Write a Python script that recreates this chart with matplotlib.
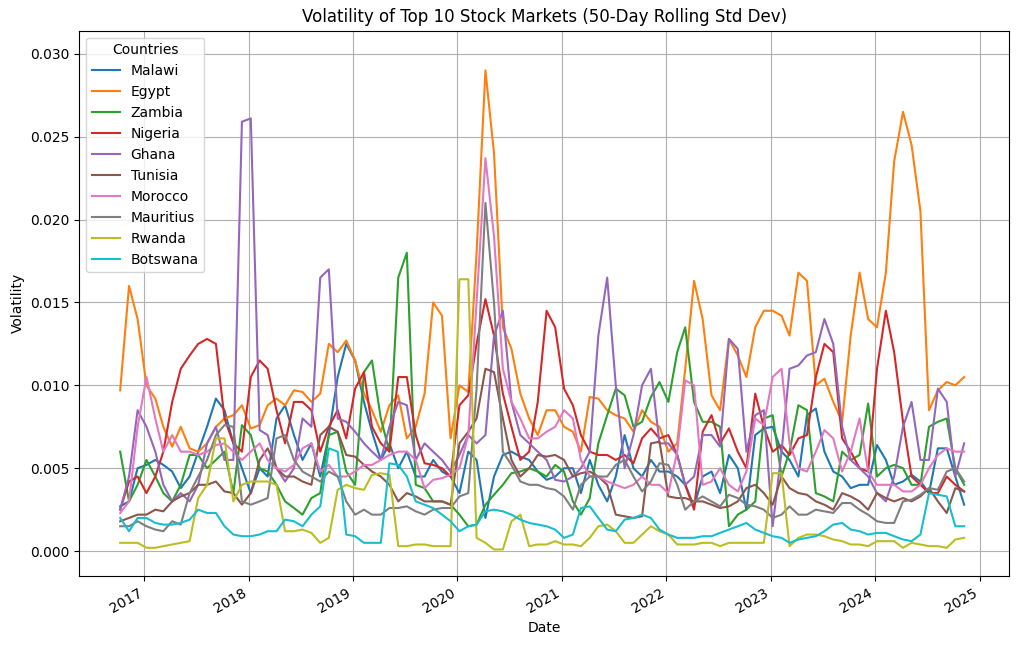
import matplotlib.pyplot as plt
import matplotlib.dates as mdates
import pandas as pd

# monthly samples of the 50-day rolling std, Oct 2016 .. Nov 2024
dates = pd.date_range('2016-10-08', periods=98, freq=pd.DateOffset(months=1))

malawi = [0.0027, 0.0030, 0.0050, 0.0052, 0.0055, 0.0052, 0.0048, 0.0038, 0.0045, 0.0060,
          0.0075, 0.0092, 0.0085, 0.0065, 0.0050, 0.0035, 0.0050, 0.0045, 0.0080, 0.0088,
          0.0070, 0.0055, 0.0065, 0.0045, 0.0070, 0.0105, 0.0125, 0.0115, 0.0090, 0.0072,
          0.0055, 0.0065, 0.0050, 0.0060, 0.0045, 0.0045, 0.0055, 0.0048, 0.0045, 0.0035,
          0.0060, 0.0055, 0.0020, 0.0045, 0.0058, 0.0060, 0.0057, 0.0055, 0.0048, 0.0043,
          0.0045, 0.0050, 0.0050, 0.0035, 0.0055, 0.0040, 0.0030, 0.0045, 0.0070, 0.0050,
          0.0045, 0.0055, 0.0048, 0.0048, 0.0045, 0.0040, 0.0027, 0.0045, 0.0048, 0.0035,
          0.0058, 0.0050, 0.0025, 0.0070, 0.0074, 0.0075, 0.0060, 0.0055, 0.0045, 0.0082,
          0.0086, 0.0060, 0.0048, 0.0045, 0.0038, 0.0040, 0.0040, 0.0064, 0.0055, 0.0040,
          0.0042, 0.0046, 0.0042, 0.0035, 0.0062, 0.0062, 0.0045, 0.0028]

egypt = [0.0097, 0.0160, 0.0140, 0.0100, 0.0092, 0.0075, 0.0063, 0.0075, 0.0062, 0.0060,
         0.0065, 0.0075, 0.0080, 0.0082, 0.0088, 0.0074, 0.0076, 0.0088, 0.0092, 0.0088,
         0.0097, 0.0096, 0.0090, 0.0095, 0.0125, 0.0120, 0.0127, 0.0115, 0.0095, 0.0085,
         0.0072, 0.0088, 0.0094, 0.0068, 0.0075, 0.0095, 0.0150, 0.0142, 0.0068, 0.0100,
         0.0096, 0.0180, 0.0290, 0.0240, 0.0135, 0.0122, 0.0095, 0.0080, 0.0070, 0.0085,
         0.0085, 0.0075, 0.0072, 0.0060, 0.0093, 0.0092, 0.0085, 0.0082, 0.0080, 0.0072,
         0.0085, 0.0078, 0.0075, 0.0060, 0.0065, 0.0110, 0.0163, 0.0140, 0.0094, 0.0085,
         0.0128, 0.0118, 0.0105, 0.0135, 0.0145, 0.0145, 0.0142, 0.0130, 0.0168, 0.0163,
         0.0100, 0.0104, 0.0090, 0.0078, 0.0130, 0.0168, 0.0140, 0.0135, 0.0168, 0.0235,
         0.0265, 0.0245, 0.0205, 0.0085, 0.0097, 0.0102, 0.0100, 0.0105]

zambia = [0.0060, 0.0030, 0.0040, 0.0055, 0.0045, 0.0035, 0.0030, 0.0040, 0.0058, 0.0058,
          0.0050, 0.0055, 0.0060, 0.0035, 0.0076, 0.0070, 0.0050, 0.0048, 0.0040, 0.0030,
          0.0026, 0.0022, 0.0032, 0.0035, 0.0070, 0.0072, 0.0048, 0.0040, 0.0108, 0.0115,
          0.0080, 0.0060, 0.0165, 0.0180, 0.0040, 0.0038, 0.0030, 0.0030, 0.0028, 0.0022,
          0.0015, 0.0016, 0.0028, 0.0034, 0.0040, 0.0047, 0.0048, 0.0050, 0.0048, 0.0045,
          0.0052, 0.0048, 0.0030, 0.0022, 0.0032, 0.0065, 0.0082, 0.0098, 0.0094, 0.0075,
          0.0078, 0.0093, 0.0102, 0.0090, 0.0120, 0.0135, 0.0090, 0.0078, 0.0078, 0.0075,
          0.0015, 0.0022, 0.0025, 0.0030, 0.0080, 0.0082, 0.0045, 0.0060, 0.0088, 0.0085,
          0.0035, 0.0033, 0.0030, 0.0060, 0.0055, 0.0058, 0.0089, 0.0045, 0.0050, 0.0052,
          0.0050, 0.0040, 0.0040, 0.0075, 0.0078, 0.0080, 0.0050, 0.0040]

nigeria = [0.0025, 0.0042, 0.0045, 0.0035, 0.0045, 0.0060, 0.0090, 0.0110, 0.0118, 0.0125,
           0.0128, 0.0125, 0.0080, 0.0065, 0.0060, 0.0105, 0.0115, 0.0110, 0.0085, 0.0065,
           0.0090, 0.0090, 0.0085, 0.0060, 0.0075, 0.0085, 0.0068, 0.0098, 0.0108, 0.0075,
           0.0065, 0.0060, 0.0105, 0.0105, 0.0070, 0.0053, 0.0052, 0.0050, 0.0045, 0.0088,
           0.0094, 0.0125, 0.0152, 0.0130, 0.0095, 0.0075, 0.0055, 0.0060, 0.0090, 0.0145,
           0.0135, 0.0098, 0.0088, 0.0070, 0.0060, 0.0058, 0.0058, 0.0055, 0.0058, 0.0053,
           0.0068, 0.0074, 0.0068, 0.0070, 0.0058, 0.0040, 0.0025, 0.0072, 0.0082, 0.0065,
           0.0074, 0.0060, 0.0050, 0.0095, 0.0075, 0.0060, 0.0064, 0.0058, 0.0068, 0.0070,
           0.0105, 0.0125, 0.0120, 0.0068, 0.0060, 0.0050, 0.0048, 0.0110, 0.0145, 0.0120,
           0.0078, 0.0045, 0.0040, 0.0035, 0.0035, 0.0045, 0.0040, 0.0036]

ghana = [0.0025, 0.0045, 0.0085, 0.0075, 0.0060, 0.0040, 0.0030, 0.0035, 0.0030, 0.0040,
         0.0065, 0.0075, 0.0055, 0.0055, 0.0259, 0.0261, 0.0073, 0.0070, 0.0050, 0.0042,
         0.0050, 0.0080, 0.0075, 0.0165, 0.0170, 0.0080, 0.0078, 0.0072, 0.0065, 0.0060,
         0.0055, 0.0075, 0.0090, 0.0088, 0.0055, 0.0065, 0.0060, 0.0055, 0.0048, 0.0058,
         0.0070, 0.0065, 0.0070, 0.0130, 0.0145, 0.0090, 0.0070, 0.0065, 0.0060, 0.0055,
         0.0043, 0.0042, 0.0045, 0.0050, 0.0060, 0.0130, 0.0165, 0.0100, 0.0050, 0.0070,
         0.0100, 0.0110, 0.0065, 0.0065, 0.0058, 0.0040, 0.0045, 0.0070, 0.0070, 0.0063,
         0.0128, 0.0122, 0.0060, 0.0082, 0.0085, 0.0015, 0.0060, 0.0110, 0.0112, 0.0118,
         0.0120, 0.0140, 0.0125, 0.0075, 0.0055, 0.0050, 0.0045, 0.0035, 0.0030, 0.0045,
         0.0075, 0.0090, 0.0055, 0.0055, 0.0098, 0.0090, 0.0045, 0.0065]

tunisia = [0.0018, 0.0020, 0.0022, 0.0022, 0.0025, 0.0024, 0.0030, 0.0033, 0.0035, 0.0040,
           0.0040, 0.0042, 0.0036, 0.0035, 0.0028, 0.0035, 0.0055, 0.0062, 0.0050, 0.0045,
           0.0045, 0.0042, 0.0040, 0.0070, 0.0075, 0.0072, 0.0058, 0.0057, 0.0052, 0.0048,
           0.0045, 0.0040, 0.0030, 0.0035, 0.0033, 0.0030, 0.0030, 0.0030, 0.0028, 0.0065,
           0.0072, 0.0080, 0.0110, 0.0108, 0.0080, 0.0055, 0.0045, 0.0050, 0.0058, 0.0057,
           0.0058, 0.0055, 0.0045, 0.0047, 0.0048, 0.0045, 0.0040, 0.0022, 0.0021, 0.0020,
           0.0021, 0.0065, 0.0066, 0.0033, 0.0032, 0.0032, 0.0030, 0.0030, 0.0028, 0.0026,
           0.0027, 0.0030, 0.0038, 0.0040, 0.0035, 0.0028, 0.0045, 0.0038, 0.0035, 0.0034,
           0.0030, 0.0028, 0.0025, 0.0035, 0.0033, 0.0030, 0.0025, 0.0035, 0.0032, 0.0030,
           0.0032, 0.0030, 0.0033, 0.0038, 0.0030, 0.0023, 0.0038, 0.0036]

morocco = [0.0023, 0.0030, 0.0075, 0.0105, 0.0080, 0.0060, 0.0070, 0.0060, 0.0060, 0.0058,
           0.0060, 0.0064, 0.0065, 0.0060, 0.0055, 0.0060, 0.0065, 0.0055, 0.0050, 0.0048,
           0.0052, 0.0062, 0.0065, 0.0048, 0.0052, 0.0045, 0.0045, 0.0048, 0.0052, 0.0052,
           0.0055, 0.0058, 0.0060, 0.0060, 0.0055, 0.0038, 0.0043, 0.0044, 0.0046, 0.0050,
           0.0070, 0.0150, 0.0237, 0.0190, 0.0110, 0.0090, 0.0080, 0.0068, 0.0068, 0.0072,
           0.0075, 0.0085, 0.0080, 0.0055, 0.0045, 0.0045, 0.0042, 0.0040, 0.0038, 0.0040,
           0.0045, 0.0040, 0.0040, 0.0035, 0.0060, 0.0103, 0.0100, 0.0040, 0.0042, 0.0050,
           0.0040, 0.0036, 0.0048, 0.0080, 0.0076, 0.0105, 0.0110, 0.0065, 0.0050, 0.0048,
           0.0060, 0.0073, 0.0068, 0.0048, 0.0060, 0.0080, 0.0048, 0.0040, 0.0040, 0.0040,
           0.0036, 0.0036, 0.0040, 0.0050, 0.0058, 0.0062, 0.0060, 0.0060]

mauritius = [0.0015, 0.0015, 0.0018, 0.0015, 0.0013, 0.0012, 0.0018, 0.0016, 0.0035, 0.0045,
             0.0055, 0.0070, 0.0076, 0.0075, 0.0030, 0.0028, 0.0030, 0.0032, 0.0068, 0.0070,
             0.0055, 0.0048, 0.0045, 0.0042, 0.0048, 0.0045, 0.0030, 0.0022, 0.0025, 0.0022,
             0.0022, 0.0026, 0.0026, 0.0027, 0.0024, 0.0022, 0.0025, 0.0026, 0.0026, 0.0033,
             0.0035, 0.0098, 0.0210, 0.0150, 0.0060, 0.0052, 0.0042, 0.0040, 0.0040, 0.0038,
             0.0037, 0.0033, 0.0025, 0.0040, 0.0045, 0.0045, 0.0045, 0.0052, 0.0055, 0.0045,
             0.0036, 0.0042, 0.0053, 0.0052, 0.0040, 0.0025, 0.0030, 0.0033, 0.0030, 0.0027,
             0.0034, 0.0032, 0.0028, 0.0027, 0.0025, 0.0020, 0.0022, 0.0027, 0.0022, 0.0022,
             0.0025, 0.0024, 0.0023, 0.0029, 0.0029, 0.0025, 0.0022, 0.0018, 0.0017, 0.0017,
             0.0030, 0.0031, 0.0034, 0.0038, 0.0037, 0.0048, 0.0050, 0.0042]

rwanda = [0.0005, 0.0005, 0.0005, 0.0002, 0.0002, 0.0003, 0.0004, 0.0005, 0.0006, 0.0032,
          0.0040, 0.0068, 0.0068, 0.0030, 0.0040, 0.0042, 0.0042, 0.0042, 0.0040, 0.0012,
          0.0012, 0.0013, 0.0011, 0.0005, 0.0008, 0.0037, 0.0040, 0.0038, 0.0037, 0.0046,
          0.0047, 0.0046, 0.0003, 0.0003, 0.0004, 0.0004, 0.0003, 0.0003, 0.0003, 0.0164,
          0.0164, 0.0008, 0.0005, 0.0001, 0.0001, 0.0018, 0.0022, 0.0003, 0.0004, 0.0004,
          0.0006, 0.0004, 0.0004, 0.0003, 0.0008, 0.0015, 0.0016, 0.0012, 0.0005, 0.0005,
          0.0010, 0.0015, 0.0012, 0.0010, 0.0004, 0.0004, 0.0004, 0.0005, 0.0005, 0.0003,
          0.0005, 0.0005, 0.0005, 0.0005, 0.0005, 0.0047, 0.0047, 0.0003, 0.0008, 0.0010,
          0.0010, 0.0009, 0.0007, 0.0006, 0.0004, 0.0004, 0.0003, 0.0006, 0.0006, 0.0006,
          0.0002, 0.0005, 0.0004, 0.0003, 0.0003, 0.0002, 0.0007, 0.0008]

botswana = [0.0020, 0.0012, 0.0020, 0.0020, 0.0017, 0.0016, 0.0016, 0.0017, 0.0019, 0.0025,
            0.0023, 0.0023, 0.0015, 0.0010, 0.0009, 0.0009, 0.0010, 0.0012, 0.0012, 0.0019,
            0.0018, 0.0015, 0.0022, 0.0027, 0.0062, 0.0060, 0.0010, 0.0009, 0.0005, 0.0005,
            0.0005, 0.0053, 0.0052, 0.0045, 0.0030, 0.0028, 0.0026, 0.0022, 0.0018, 0.0012,
            0.0015, 0.0016, 0.0024, 0.0025, 0.0024, 0.0022, 0.0019, 0.0017, 0.0016, 0.0015,
            0.0013, 0.0008, 0.0010, 0.0026, 0.0027, 0.0020, 0.0013, 0.0012, 0.0019, 0.0020,
            0.0022, 0.0020, 0.0013, 0.0010, 0.0008, 0.0008, 0.0008, 0.0009, 0.0009, 0.0011,
            0.0013, 0.0015, 0.0017, 0.0013, 0.0011, 0.0009, 0.0008, 0.0005, 0.0007, 0.0008,
            0.0009, 0.0012, 0.0016, 0.0017, 0.0013, 0.0012, 0.0010, 0.0011, 0.0011, 0.0009,
            0.0007, 0.0006, 0.0010, 0.0035, 0.0034, 0.0033, 0.0015, 0.0015]

countries = ['Malawi', 'Egypt', 'Zambia', 'Nigeria', 'Ghana',
             'Tunisia', 'Morocco', 'Mauritius', 'Rwanda', 'Botswana']
series = [malawi, egypt, zambia, nigeria, ghana,
          tunisia, morocco, mauritius, rwanda, botswana]

fig = plt.figure(figsize=(10.18, 6.45), dpi=100)
ax = fig.add_axes([0.0779, 0.107, 0.9133, 0.8456])

for name, vals in zip(countries, series):
    ax.plot(dates, vals, label=name)

ax.set_title('Volatility of Top 10 Stock Markets (50-Day Rolling Std Dev)')
ax.set_xlabel('Date')
ax.set_ylabel('Volatility')
ax.set_xlim(pd.Timestamp('2016-05-18'), pd.Timestamp('2025-04-14'))
ax.set_ylim(-0.0015, 0.0314)
ax.xaxis.set_major_locator(mdates.YearLocator())
ax.xaxis.set_major_formatter(mdates.DateFormatter('%Y'))
for lbl in ax.get_xticklabels():
    lbl.set_rotation(30)
    lbl.set_ha('right')
ax.grid(True)
ax.legend(title='Countries', loc='upper left')

fig.savefig('out.png', dpi=100)
